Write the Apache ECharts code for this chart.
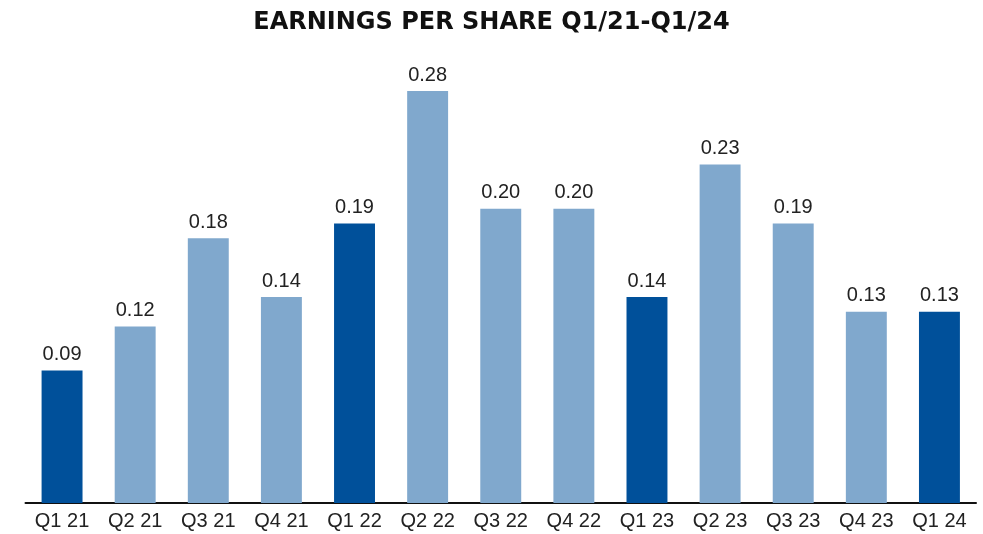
<!DOCTYPE html>
<html><head><meta charset="utf-8">
<script src="https://cdn.jsdelivr.net/npm/echarts@6/dist/echarts.min.js"></script>
<style>html,body{margin:0;padding:0;background:#fff}#c{width:983px;height:534px}</style>
</head><body><div id="c"></div>
<script>
const categories = ['Q1 21','Q2 21','Q3 21','Q4 21','Q1 22','Q2 22','Q3 22','Q4 22','Q1 23','Q2 23','Q3 23','Q4 23','Q1 24'];
const eps = [0.09,0.12,0.18,0.14,0.19,0.28,0.20,0.20,0.14,0.23,0.19,0.13,0.13];
const highlighted = [true,false,false,false,true,false,false,false,true,false,false,false,true];
const DARK = '#00509a', LIGHT = '#80a8cd';
const chart = echarts.init(document.getElementById('c'));
chart.setOption({
  animation:false,
  title:{text:'EARNINGS PER SHARE Q1/21-Q1/24',left:'center',top:6,
    textStyle:{fontFamily:'DejaVu Sans',fontWeight:'bold',fontSize:24,color:'#111'}},
  grid:{left:25.5,right:7,top:61.6,bottom:31},
  xAxis:{type:'category',data:categories,
    axisLine:{lineStyle:{color:'#111',width:2}},axisTick:{show:false},
    axisLabel:{fontFamily:'Liberation Sans',fontSize:20,color:'#222',margin:8}},
  yAxis:{type:'value',min:0,max:0.3,show:false,splitLine:{show:false}},
  series:[{type:'bar',barWidth:'56%',
    data:eps.map((v,i)=>({value:v,itemStyle:{color:highlighted[i]?DARK:LIGHT}})),
    label:{show:true,position:'top',distance:6,formatter:p=>p.value.toFixed(2),
      fontFamily:'Liberation Sans',fontSize:20,color:'#222'}}]
});
</script></body></html>
